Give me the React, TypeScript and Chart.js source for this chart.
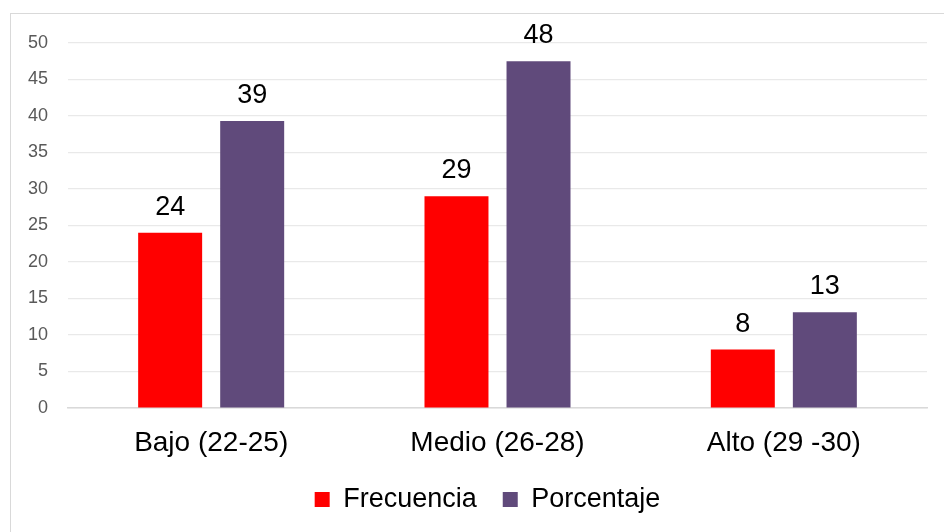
import React, { useEffect, useRef } from "react";
import { Chart, registerables } from "chart.js";

Chart.register(...registerables);

const categories = ["Bajo (22-25)", "Medio (26-28)", "Alto (29 -30)"];
const frecuencia = [24, 29, 8];
const porcentaje = [39.3, 47.5, 13.1];
const yTicks = [0, 5, 10, 15, 20, 25, 30, 35, 40, 45, 50];

const FONT = "'Liberation Sans', Arial, sans-serif";

const valueLabels = {
  id: "valueLabels",
  afterDatasetsDraw(chart: any) {
    const ctx = chart.ctx;
    ctx.save();
    ctx.font = `27px ${FONT}`;
    ctx.fillStyle = "#000000";
    ctx.textAlign = "center";
    ctx.textBaseline = "alphabetic";
    chart.data.datasets.forEach((ds: any, i: number) => {
      const meta = chart.getDatasetMeta(i);
      meta.data.forEach((bar: any, j: number) => {
        ctx.fillText(Math.round(ds.data[j]).toString(), bar.x, bar.y - 18);
      });
    });
    ctx.restore();
  },
};

// Excel centres the legend on the whole chart box, which runs past the right edge.
const legendShift = {
  id: "legendShift",
  afterLayout(chart: any) {
    if (chart.legend) {
      chart.legend.left += 15;
      chart.legend.right += 15;
    }
  },
};

const CANVAS_H = 523;

export default function App() {
  const ref = useRef<HTMLCanvasElement>(null);
  useEffect(() => {
    const chart = new Chart(ref.current!, {
      type: "bar",
      data: {
        labels: categories,
        datasets: [
          {
            label: "Frecuencia",
            data: frecuencia,
            backgroundColor: "#ff0000",
            categoryPercentage: 0.573,
            barPercentage: 0.78,
          },
          {
            label: "Porcentaje",
            data: porcentaje,
            backgroundColor: "#604a7b",
            categoryPercentage: 0.573,
            barPercentage: 0.78,
          },
        ],
      },
      options: {
        animation: false,
        responsive: false,
        maintainAspectRatio: false,
        layout: { padding: { left: 18, top: 43, right: 17, bottom: 0 } },
        plugins: {
          tooltip: { enabled: false },
          legend: {
            position: "bottom",
            labels: {
              font: { family: FONT, size: 27 },
              color: "#000000",
              boxWidth: 15,
              boxHeight: 15,
              padding: 26,
            },
          },
        },
        scales: {
          x: {
            grid: { display: false, drawTicks: false },
            border: { color: "#d9d9d9", width: 1.5 },
            ticks: {
              font: { family: FONT, size: 28 },
              color: "#000000",
              padding: 18,
            },
            afterFit: (s: any) => {
              s.height = 52;
            },
          },
          y: {
            min: 0,
            max: 50,
            afterBuildTicks: (s: any) => {
              s.ticks = yTicks.map((v) => ({ value: v }));
            },
            grid: { color: "#e9e9e9", lineWidth: 1.2, drawTicks: false },
            border: { display: false },
            ticks: {
              font: { family: FONT, size: 18 },
              color: "#595959",
              padding: 20,
            },
            afterFit: (s: any) => {
              s.width = 50;
            },
          },
        },
      },
      plugins: [valueLabels, legendShift],
    });
    return () => chart.destroy();
  }, []);

  return (
    <div style={{ position: "absolute", left: 0, top: 0, width: 944, height: 532, background: "#fff", overflow: "hidden" }}>
      <div
        style={{
          position: "absolute",
          left: 10,
          top: 13,
          width: 960,
          height: 560,
          border: "1.5px solid #d9d9d9",
          boxSizing: "border-box",
        }}
      />
      <canvas ref={ref} width={944} height={CANVAS_H} style={{ position: "absolute", left: 0, top: 0 }} />
    </div>
  );
}
